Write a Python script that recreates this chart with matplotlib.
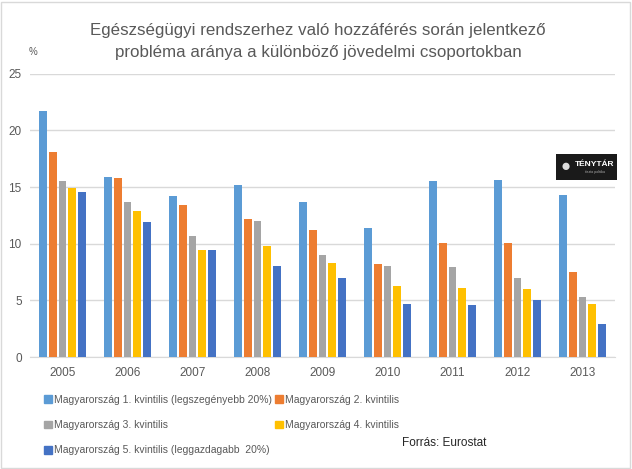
import matplotlib
matplotlib.use("Agg")
import matplotlib.pyplot as plt
import numpy as np
from matplotlib.patches import Rectangle, Patch

plt.rcParams['font.family'] = ['Liberation Sans', 'DejaVu Sans']

years = ["2005", "2006", "2007", "2008", "2009", "2010", "2011", "2012", "2013"]
series_names = [
    "Magyarország 1. kvintilis (legszegényebb 20%)",
    "Magyarország 2. kvintilis",
    "Magyarország 3. kvintilis",
    "Magyarország 4. kvintilis",
    "Magyarország 5. kvintilis (leggazdagabb  20%)",
]
q1 = [21.7, 15.9, 14.2, 15.2, 13.7, 11.4, 15.5, 15.6, 14.3]
q2 = [18.1, 15.8, 13.4, 12.2, 11.2, 8.2, 10.1, 10.1, 7.5]
q3 = [15.5, 13.7, 10.7, 12.0, 9.0, 8.0, 7.9, 7.0, 5.3]
q4 = [14.9, 12.9, 9.4, 9.8, 8.3, 6.3, 6.1, 6.0, 4.7]
q5 = [14.6, 11.9, 9.4, 8.0, 7.0, 4.7, 4.6, 5.0, 2.9]
colors = ["#5B9BD5", "#ED7D31", "#A5A5A5", "#FFC000", "#4472C4"]

title_lines = ["Egészségügyi rendszerhez való hozzáférés során jelentkező",
               "probléma aránya a különböző jövedelmi csoportokban"]
source = "Forrás: Eurostat"
txt = "#595959"

fig = plt.figure(figsize=(6.32, 4.69), dpi=100)
W, H = 632, 469
ax = fig.add_axes([30 / W, 1 - 357 / H, (615 - 30) / W, (357 - 73.7) / H])

data = [q1, q2, q3, q4, q5]
x = np.arange(len(years))
pitch = 0.149
bw = 0.123
for i, (vals, c) in enumerate(zip(data, colors)):
    ax.bar(x + (i - 2) * pitch, vals, width=bw, color=c, zorder=3)

ax.set_xlim(-0.5, len(years) - 0.5)
ax.set_ylim(0, 25)
ax.set_yticks([0, 5, 10, 15, 20, 25])
ax.set_xticks(x)
ax.set_xticklabels(years)
ax.grid(axis='y', color='#D9D9D9', linewidth=1, zorder=0)
for s in ['top', 'right', 'left']:
    ax.spines[s].set_visible(False)
ax.spines['bottom'].set_color('#D9D9D9')
ax.tick_params(axis='both', length=0, colors=txt, labelsize=8.5)
ax.tick_params(axis='x', pad=7)
ax.tick_params(axis='y', pad=6)

fig.text(318 / W, 1 - 30 / H, title_lines[0], ha='center', va='center', fontsize=12.2, color=txt)
fig.text(318 / W, 1 - 53 / H, title_lines[1], ha='center', va='center', fontsize=12.2, color=txt)
fig.text(33 / W, 1 - 52 / H, "%", ha='center', va='center', fontsize=7, color=txt)

order = [0, 2, 4, 1, 3]
leg = fig.legend([Patch(color=colors[i]) for i in order], [series_names[i] for i in order],
                 ncol=2, loc='upper left', bbox_to_anchor=(44 / W, 1 - 395 / H),
                 frameon=False, fontsize=7.5, handlelength=0.8, handleheight=0.8,
                 handletextpad=0.15, columnspacing=0.3, labelspacing=1.45, borderaxespad=0,
                 borderpad=0)
for t in leg.get_texts():
    t.set_color(txt)

fig.text(444 / W, 1 - 443 / H, source, ha='center', va='center', fontsize=8.5, color='#262626')

# logo
lx0, ly0, lx1, ly1 = 556, 154, 617, 180
fig.patches.append(Rectangle((lx0 / W, 1 - ly1 / H), (lx1 - lx0) / W, (ly1 - ly0) / H,
                             transform=fig.transFigure, facecolor='#1a1a1a', edgecolor='none', zorder=5))
fig.text(566 / W, 1 - 167 / H, "●", ha='center', va='center', fontsize=12, color='#dddddd', zorder=6)
fig.text(595 / W, 1 - 164 / H, "TÉNYTÁR", ha='center', va='center', fontsize=6, color='white',
         fontweight='bold', zorder=6)
fig.text(595 / W, 1 - 172 / H, "tiszta politika", ha='center', va='center', fontsize=2.5, color='#aaaaaa', zorder=6)

# outer border
fig.patches.append(Rectangle((1 / W, 1 / H), (W - 3) / W, (H - 3) / H, transform=fig.transFigure,
                             facecolor='none', edgecolor='#D9D9D9', linewidth=1, zorder=10))

fig.savefig("out.png", dpi=100)
